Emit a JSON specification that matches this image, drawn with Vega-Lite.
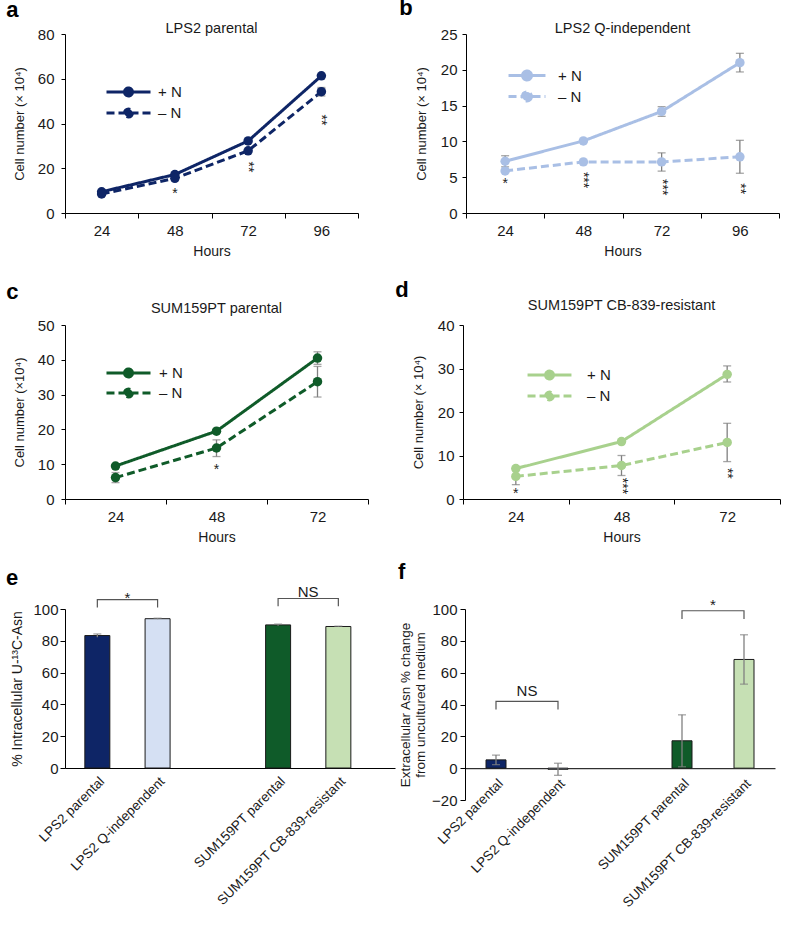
{
  "$schema": "https://vega.github.io/schema/vega-lite/v6.json",
  "background": "white",
  "padding": {"left": 5, "top": -3, "right": 0, "bottom": 0},
  "config": {
    "font": "Liberation Sans",
    "view": {"stroke": null},
    "axis": {"grid": false, "labelOverlap": false, "domainColor": "#000", "domainWidth": 1, "tickColor": "#000", "labelColor": "#1a1a1a", "titleColor": "#1a1a1a", "labelFontSize": 15, "titleFontSize": 14, "titleFontWeight": "normal", "labelFont": "Liberation Sans", "titleFont": "Liberation Sans"},
    "title": {"anchor": "start", "frame": "bounds", "fontSize": 22, "fontWeight": "bold", "font": "Liberation Sans", "color": "#000"},
    "legend": {"padding": 0, "labelFontSize": 15, "labelFont": "Liberation Sans", "labelColor": "#1a1a1a", "symbolStrokeWidth": 3, "rowPadding": 0}
  },
  "datasets": {
    "a": [
      {"h": "24", "g": "+ N", "v": 9.5}, {"h": "24", "g": "– N", "v": 8.5},
      {"h": "48", "g": "+ N", "v": 17.2}, {"h": "48", "g": "– N", "v": 15.5},
      {"h": "72", "g": "+ N", "v": 32.2}, {"h": "72", "g": "– N", "v": 27.8},
      {"h": "96", "g": "+ N", "v": 61.3}, {"h": "96", "g": "– N", "v": 54.2, "lo": 52.3, "hi": 56.1}
    ],
    "a_sig": [{"h": "48", "y": 8.6, "t": "*"}],
    "a_sig2": [{"h": "72", "y": 20.6, "t": "**"}, {"h": "96", "y": 41.6, "t": "**"}],
    "b": [
      {"h": "24", "g": "+ N", "v": 7.23, "lo": 6.45, "hi": 8.0}, {"h": "24", "g": "– N", "v": 5.88},
      {"h": "48", "g": "+ N", "v": 10.07}, {"h": "48", "g": "– N", "v": 7.14},
      {"h": "72", "g": "+ N", "v": 14.18, "lo": 13.5, "hi": 14.85}, {"h": "72", "g": "– N", "v": 7.14, "lo": 5.85, "hi": 8.4},
      {"h": "96", "g": "+ N", "v": 21.0, "lo": 19.7, "hi": 22.3}, {"h": "96", "g": "– N", "v": 7.84, "lo": 5.55, "hi": 10.15}
    ],
    "b_sig": [{"h": "24", "y": 4.0, "t": "*"}],
    "b_sig2": [{"h": "48", "y": 4.6, "t": "***"}, {"h": "72", "y": 3.6, "t": "***"}, {"h": "96", "y": 3.4, "t": "**"}],
    "c": [
      {"h": "24", "g": "+ N", "v": 9.47}, {"h": "24", "g": "– N", "v": 6.15, "lo": 4.7, "hi": 7.6},
      {"h": "48", "g": "+ N", "v": 19.5}, {"h": "48", "g": "– N", "v": 14.65, "lo": 12.2, "hi": 17.0},
      {"h": "72", "g": "+ N", "v": 40.5, "lo": 38.7, "hi": 42.3}, {"h": "72", "g": "– N", "v": 33.7, "lo": 29.3, "hi": 38.1}
    ],
    "c_sig": [{"h": "48", "y": 8.4, "t": "*"}],
    "d": [
      {"h": "24", "g": "+ N", "v": 7.0}, {"h": "24", "g": "– N", "v": 5.2, "lo": 3.3, "hi": 6.9},
      {"h": "48", "g": "+ N", "v": 13.2}, {"h": "48", "g": "– N", "v": 7.7, "lo": 5.4, "hi": 10.0},
      {"h": "72", "g": "+ N", "v": 28.65, "lo": 26.9, "hi": 30.6}, {"h": "72", "g": "– N", "v": 13.0, "lo": 8.6, "hi": 17.4}
    ],
    "d_sig": [{"h": "24", "y": 1.1, "t": "*"}],
    "d_sig2": [{"h": "48", "y": 3.0, "t": "***"}, {"h": "72", "y": 5.9, "t": "**"}],
    "e": [
      {"s": "LPS2 parental", "v": 83.3, "lo": 82.3, "hi": 84.3},
      {"s": "LPS2 Q-independent", "v": 93.9, "lo": 93.6, "hi": 94.2},
      {"s": "SUM159PT parental", "v": 90.0, "lo": 89.5, "hi": 90.5},
      {"s": "SUM159PT CB-839-resistant", "v": 89.0, "lo": 88.8, "hi": 89.2}
    ],
    "e_br": [
      {"k": "1", "o": 1, "s": "LPS2 parental", "y": 101}, {"k": "1", "o": 2, "s": "LPS2 parental", "y": 105.9},
      {"k": "1", "o": 3, "s": "LPS2 Q-independent", "y": 105.9}, {"k": "1", "o": 4, "s": "LPS2 Q-independent", "y": 101},
      {"k": "2", "o": 1, "s": "SUM159PT parental", "y": 101.7}, {"k": "2", "o": 2, "s": "SUM159PT parental", "y": 106.6},
      {"k": "2", "o": 3, "s": "SUM159PT CB-839-resistant", "y": 106.6}, {"k": "2", "o": 4, "s": "SUM159PT CB-839-resistant", "y": 101.7}
    ],
    "e_lab": [{"s": "LPS2 parental", "y": 106.8, "t": "*"}, {"s": "SUM159PT parental", "y": 111, "t": "NS"}],
    "f": [
      {"s": "LPS2 parental", "v": 5.2, "lo": 2.2, "hi": 8.2},
      {"s": "LPS2 Q-independent", "v": -0.7, "lo": -4.5, "hi": 3.1},
      {"s": "SUM159PT parental", "v": 17.2, "lo": 0.9, "hi": 33.5},
      {"s": "SUM159PT CB-839-resistant", "v": 68.3, "lo": 52.8, "hi": 83.8}
    ],
    "f_br": [
      {"k": "1", "o": 1, "s": "LPS2 parental", "y": 36.8}, {"k": "1", "o": 2, "s": "LPS2 parental", "y": 42},
      {"k": "1", "o": 3, "s": "LPS2 Q-independent", "y": 42}, {"k": "1", "o": 4, "s": "LPS2 Q-independent", "y": 36.8},
      {"k": "2", "o": 1, "s": "SUM159PT parental", "y": 93.7}, {"k": "2", "o": 2, "s": "SUM159PT parental", "y": 98.9},
      {"k": "2", "o": 3, "s": "SUM159PT CB-839-resistant", "y": 98.9}, {"k": "2", "o": 4, "s": "SUM159PT CB-839-resistant", "y": 93.7}
    ],
    "f_lab": [{"s": "LPS2 parental", "y": 48.2, "t": "NS"}, {"s": "SUM159PT parental", "y": 102.5, "t": "*"}]
  },
  "resolve": {"scale": {"strokeDash": "independent"}, "legend": {"strokeDash": "independent"}},
  "vconcat": [
    {
      "resolve": {"scale": {"strokeDash": "independent"}, "legend": {"strokeDash": "independent"}},
      "hconcat": [
        {
          "title": {"text": "a", "dx": -7, "offset": -1},
          "resolve": {"scale": {"strokeDash": "independent"}, "legend": {"strokeDash": "independent"}},
          "vconcat": [
            {
              "width": 293, "height": 179,
              "title": {"text": "LPS2 parental", "anchor": "middle", "frame": "group", "fontSize": 14.5, "fontWeight": "normal", "color": "#1a1a1a", "offset": -9.5},
              "data": {"name": "a"},
              "layer": [
                {
                  "mark": {"type": "line", "strokeWidth": 3, "color": "#0e2566"},
                  "encoding": {
                    "x": {"field": "h", "type": "ordinal", "scale": {"type": "band", "paddingInner": 0, "paddingOuter": 0}, "axis": {"title": "Hours", "labelAngle": 0, "tickBand": "extent", "tickSize": 5, "labelPadding": 5, "titlePadding": 6}},
                    "y": {"field": "v", "type": "quantitative", "scale": {"domain": [0, 80], "nice": false}, "axis": {"title": "Cell number (× 10⁴)", "titleFontSize": 13, "values": [0, 20, 40, 60, 80], "tickCount": 20, "tickSize": 4, "labelPadding": 7, "titlePadding": 11}},
                    "strokeDash": {"field": "g", "type": "nominal", "scale": {"domain": ["+ N", "– N"], "range": [[1, 0], [8, 4]]},
                      "legend": {"title": null, "orient": "none", "legendX": 54, "legendY": 48.5, "labelOffset": 20, "symbolType": "M-2.75,0L2.75,0M0.5,0A0.5,0.5,0,1,1,-0.5,0A0.5,0.5,0,1,1,0.5,0Z", "symbolSize": 256, "symbolStrokeColor": "#0e2566", "symbolFillColor": "#0e2566"}}
                  }
                },
                {"mark": {"type": "rule", "color": "#808080", "strokeWidth": 1.3}, "encoding": {"x": {"field": "h", "type": "ordinal"}, "y": {"field": "lo", "type": "quantitative"}, "y2": {"field": "hi"}}},
                {"mark": {"type": "tick", "color": "#808080", "size": 8, "thickness": 1.3}, "encoding": {"x": {"field": "h", "type": "ordinal"}, "y": {"field": "lo", "type": "quantitative"}}},
                {"mark": {"type": "tick", "color": "#808080", "size": 8, "thickness": 1.3}, "encoding": {"x": {"field": "h", "type": "ordinal"}, "y": {"field": "hi", "type": "quantitative"}}},
                {"mark": {"type": "point", "filled": true, "size": 90, "opacity": 1, "color": "#0e2566"}, "encoding": {"x": {"field": "h", "type": "ordinal"}, "y": {"field": "v", "type": "quantitative"}}},
                {"data": {"name": "a_sig"}, "mark": {"type": "text", "fontSize": 14, "color": "#222", "baseline": "middle", "align": "center"}, "encoding": {"x": {"field": "h", "type": "ordinal"}, "y": {"field": "y", "type": "quantitative"}, "text": {"field": "t"}}},
                {"data": {"name": "a_sig2"}, "mark": {"type": "text", "fontSize": 14, "color": "#222", "angle": 90, "baseline": "middle", "align": "center"}, "encoding": {"x": {"field": "h", "type": "ordinal"}, "y": {"field": "y", "type": "quantitative"}, "text": {"field": "t"}}}
              ]
            }
          ]
        },
        {
          "title": {"text": "b", "dx": -16, "offset": 1},
          "resolve": {"scale": {"strokeDash": "independent"}, "legend": {"strokeDash": "independent"}},
          "vconcat": [
            {
              "width": 313, "height": 179,
              "title": {"text": "LPS2 Q-independent", "anchor": "middle", "frame": "group", "fontSize": 14.5, "fontWeight": "normal", "color": "#1a1a1a", "offset": -9.5},
              "data": {"name": "b"},
              "layer": [
                {
                  "mark": {"type": "line", "strokeWidth": 3, "color": "#a9bfe5"},
                  "encoding": {
                    "x": {"field": "h", "type": "ordinal", "scale": {"type": "band", "paddingInner": 0, "paddingOuter": 0}, "axis": {"title": "Hours", "labelAngle": 0, "tickBand": "extent", "tickSize": 5, "labelPadding": 5, "titlePadding": 6}},
                    "y": {"field": "v", "type": "quantitative", "scale": {"domain": [0, 25], "nice": false}, "axis": {"title": "Cell number (× 10⁴)", "titleFontSize": 13, "values": [0, 5, 10, 15, 20, 25], "tickCount": 20, "tickSize": 4, "labelPadding": 5, "titlePadding": 12}},
                    "strokeDash": {"field": "g", "type": "nominal", "scale": {"domain": ["+ N", "– N"], "range": [[1, 0], [8, 4]]},
                      "legend": {"title": null, "orient": "none", "legendX": 52.5, "legendY": 33, "labelOffset": 22.5, "symbolType": "M-2.64,0L2.64,0M0.64,0A0.64,0.64,0,1,1,-0.64,0A0.64,0.64,0,1,1,0.64,0Z", "symbolSize": 196, "symbolStrokeColor": "#a9bfe5", "symbolFillColor": "#a9bfe5"}}
                  }
                },
                {"mark": {"type": "rule", "color": "#808080", "strokeWidth": 1.3}, "encoding": {"x": {"field": "h", "type": "ordinal"}, "y": {"field": "lo", "type": "quantitative"}, "y2": {"field": "hi"}}},
                {"mark": {"type": "tick", "color": "#808080", "size": 8, "thickness": 1.3}, "encoding": {"x": {"field": "h", "type": "ordinal"}, "y": {"field": "lo", "type": "quantitative"}}},
                {"mark": {"type": "tick", "color": "#808080", "size": 8, "thickness": 1.3}, "encoding": {"x": {"field": "h", "type": "ordinal"}, "y": {"field": "hi", "type": "quantitative"}}},
                {"mark": {"type": "point", "filled": true, "size": 90, "opacity": 1, "color": "#a9bfe5"}, "encoding": {"x": {"field": "h", "type": "ordinal"}, "y": {"field": "v", "type": "quantitative"}}},
                {"data": {"name": "b_sig"}, "mark": {"type": "text", "fontSize": 14, "color": "#222", "baseline": "middle", "align": "center"}, "encoding": {"x": {"field": "h", "type": "ordinal"}, "y": {"field": "y", "type": "quantitative"}, "text": {"field": "t"}}},
                {"data": {"name": "b_sig2"}, "mark": {"type": "text", "fontSize": 14, "color": "#222", "angle": 90, "baseline": "middle", "align": "center"}, "encoding": {"x": {"field": "h", "type": "ordinal"}, "y": {"field": "y", "type": "quantitative"}, "text": {"field": "t"}}}
              ]
            }
          ]
        }
      ],
      "spacing": 40
    },
    {
      "resolve": {"scale": {"strokeDash": "independent"}, "legend": {"strokeDash": "independent"}},
      "vconcat": [
        {
          "resolve": {"scale": {"strokeDash": "independent"}, "legend": {"strokeDash": "independent"}},
          "hconcat": [
            {
              "title": {"text": "c", "dx": -7, "offset": -3},
              "resolve": {"scale": {"strokeDash": "independent"}, "legend": {"strokeDash": "independent"}},
              "vconcat": [
                {
                  "width": 303, "height": 174,
                  "title": {"text": "SUM159PT parental", "anchor": "middle", "frame": "group", "fontSize": 14.5, "fontWeight": "normal", "color": "#1a1a1a", "offset": 1.5},
                  "data": {"name": "c"},
                  "layer": [
                    {
                      "mark": {"type": "line", "strokeWidth": 3, "color": "#0f5b29"},
                      "encoding": {
                        "x": {"field": "h", "type": "ordinal", "scale": {"type": "band", "paddingInner": 0, "paddingOuter": 0}, "axis": {"title": "Hours", "labelAngle": 0, "tickBand": "extent", "tickSize": 5, "labelPadding": 5, "titlePadding": 6}},
                        "y": {"field": "v", "type": "quantitative", "scale": {"domain": [0, 50], "nice": false}, "axis": {"title": "Cell number (×10⁴)", "titleFontSize": 13, "values": [0, 10, 20, 30, 40, 50], "tickCount": 20, "tickSize": 4, "labelPadding": 7, "titlePadding": 11}},
                        "strokeDash": {"field": "g", "type": "nominal", "scale": {"domain": ["+ N", "– N"], "range": [[1, 0], [8, 4]]},
                          "legend": {"title": null, "orient": "none", "legendX": 53.5, "legendY": 38, "labelOffset": 20.5, "symbolType": "M-2.59,0L2.59,0M0.47,0A0.47,0.47,0,1,1,-0.47,0A0.47,0.47,0,1,1,0.47,0Z", "symbolSize": 289, "symbolStrokeColor": "#0f5b29", "symbolFillColor": "#0f5b29"}}
                      }
                    },
                    {"mark": {"type": "rule", "color": "#808080", "strokeWidth": 1.3}, "encoding": {"x": {"field": "h", "type": "ordinal"}, "y": {"field": "lo", "type": "quantitative"}, "y2": {"field": "hi"}}},
                    {"mark": {"type": "tick", "color": "#808080", "size": 8, "thickness": 1.3}, "encoding": {"x": {"field": "h", "type": "ordinal"}, "y": {"field": "lo", "type": "quantitative"}}},
                    {"mark": {"type": "tick", "color": "#808080", "size": 8, "thickness": 1.3}, "encoding": {"x": {"field": "h", "type": "ordinal"}, "y": {"field": "hi", "type": "quantitative"}}},
                    {"mark": {"type": "point", "filled": true, "size": 90, "opacity": 1, "color": "#0f5b29"}, "encoding": {"x": {"field": "h", "type": "ordinal"}, "y": {"field": "v", "type": "quantitative"}}},
                    {"data": {"name": "c_sig"}, "mark": {"type": "text", "fontSize": 14, "color": "#222", "baseline": "middle", "align": "center"}, "encoding": {"x": {"field": "h", "type": "ordinal"}, "y": {"field": "y", "type": "quantitative"}, "text": {"field": "t"}}}
                  ]
                }
              ]
            },
            {
              "title": {"text": "d", "dx": -17, "offset": -4},
              "resolve": {"scale": {"strokeDash": "independent"}, "legend": {"strokeDash": "independent"}},
              "vconcat": [
                {
                  "width": 317, "height": 174,
                  "title": {"text": "SUM159PT CB-839-resistant", "anchor": "middle", "frame": "group", "fontSize": 14.5, "fontWeight": "normal", "color": "#1a1a1a", "offset": 4.5},
                  "data": {"name": "d"},
                  "layer": [
                    {
                      "mark": {"type": "line", "strokeWidth": 3, "color": "#a8d18d"},
                      "encoding": {
                        "x": {"field": "h", "type": "ordinal", "scale": {"type": "band", "paddingInner": 0, "paddingOuter": 0}, "axis": {"title": "Hours", "labelAngle": 0, "tickBand": "extent", "tickSize": 5, "labelPadding": 5, "titlePadding": 6}},
                        "y": {"field": "v", "type": "quantitative", "scale": {"domain": [0, 40], "nice": false}, "axis": {"title": "Cell number (× 10⁴)", "titleFontSize": 13, "values": [0, 10, 20, 30, 40], "tickCount": 20, "tickSize": 4, "labelPadding": 5, "titlePadding": 12}},
                        "strokeDash": {"field": "g", "type": "nominal", "scale": {"domain": ["+ N", "– N"], "range": [[1, 0], [8, 4]]},
                          "legend": {"title": null, "orient": "none", "legendX": 76, "legendY": 39.5, "labelOffset": 27, "symbolType": "M-2.44,0L2.44,0M0.44,0A0.44,0.44,0,1,1,-0.44,0A0.44,0.44,0,1,1,0.44,0Z", "symbolSize": 324, "symbolStrokeColor": "#a8d18d", "symbolFillColor": "#a8d18d"}}
                      }
                    },
                    {"mark": {"type": "rule", "color": "#808080", "strokeWidth": 1.3}, "encoding": {"x": {"field": "h", "type": "ordinal"}, "y": {"field": "lo", "type": "quantitative"}, "y2": {"field": "hi"}}},
                    {"mark": {"type": "tick", "color": "#808080", "size": 8, "thickness": 1.3}, "encoding": {"x": {"field": "h", "type": "ordinal"}, "y": {"field": "lo", "type": "quantitative"}}},
                    {"mark": {"type": "tick", "color": "#808080", "size": 8, "thickness": 1.3}, "encoding": {"x": {"field": "h", "type": "ordinal"}, "y": {"field": "hi", "type": "quantitative"}}},
                    {"mark": {"type": "point", "filled": true, "size": 90, "opacity": 1, "color": "#a8d18d"}, "encoding": {"x": {"field": "h", "type": "ordinal"}, "y": {"field": "v", "type": "quantitative"}}},
                    {"data": {"name": "d_sig"}, "mark": {"type": "text", "fontSize": 14, "color": "#222", "baseline": "middle", "align": "center"}, "encoding": {"x": {"field": "h", "type": "ordinal"}, "y": {"field": "y", "type": "quantitative"}, "text": {"field": "t"}}},
                    {"data": {"name": "d_sig2"}, "mark": {"type": "text", "fontSize": 14, "color": "#222", "angle": 90, "baseline": "middle", "align": "center"}, "encoding": {"x": {"field": "h", "type": "ordinal"}, "y": {"field": "y", "type": "quantitative"}, "text": {"field": "t"}}}
                  ]
                }
              ]
            }
          ],
          "spacing": 26
        },
        {
          "hconcat": [
            {
              "width": 330, "height": 159,
              "title": {"text": "e", "dx": -5, "offset": -5},
              "layer": [
                {
                  "data": {"name": "e"},
                  "mark": {"type": "bar", "size": 25, "stroke": "#1a1a1a", "strokeWidth": 1},
                  "encoding": {
                    "x": {"field": "s", "type": "nominal", "sort": null, "scale": {"type": "band", "domain": ["LPS2 parental", "LPS2 Q-independent", " ", "SUM159PT parental", "SUM159PT CB-839-resistant"], "paddingInner": 0.585, "paddingOuter": 0.531, "align": 0.31},
                      "axis": {"title": null, "labelAngle": -45, "ticks": false, "labelPadding": 6, "labelFontSize": 13.5}},
                    "y": {"field": "v", "type": "quantitative", "scale": {"domain": [0, 100], "nice": false}, "axis": {"title": "% Intracellular U-¹³C-Asn", "values": [0, 20, 40, 60, 80, 100], "tickCount": 20, "tickSize": 5, "labelPadding": 2, "titlePadding": 8}},
                    "fill": {"field": "s", "type": "nominal", "scale": {"domain": ["LPS2 parental", "LPS2 Q-independent", "SUM159PT parental", "SUM159PT CB-839-resistant"], "range": ["#0e2566", "#d5e0f3", "#0f5b29", "#c6e0b4"]}, "legend": null}
                  }
                },
                {"data": {"name": "e"}, "mark": {"type": "rule", "color": "#808080", "strokeWidth": 1.3}, "encoding": {"x": {"field": "s", "type": "nominal"}, "y": {"field": "lo", "type": "quantitative"}, "y2": {"field": "hi"}}},
                {"data": {"name": "e"}, "mark": {"type": "tick", "color": "#808080", "size": 8, "thickness": 1.3}, "encoding": {"x": {"field": "s", "type": "nominal"}, "y": {"field": "hi", "type": "quantitative"}}},
                {"data": {"name": "e_br"}, "mark": {"type": "line", "color": "#555", "strokeWidth": 1.2}, "encoding": {"x": {"field": "s", "type": "nominal"}, "y": {"field": "y", "type": "quantitative"}, "detail": {"field": "k"}, "order": {"field": "o"}}},
                {"data": {"name": "e_lab"}, "mark": {"type": "text", "fontSize": 15, "color": "#1a1a1a", "dx": 30, "baseline": "middle"}, "encoding": {"x": {"field": "s", "type": "nominal"}, "y": {"field": "y", "type": "quantitative"}, "text": {"field": "t"}}}
              ]
            },
            {
              "width": 310, "height": 191,
              "title": {"text": "f", "dx": 0, "offset": 14},
              "layer": [
                {
                  "data": {"name": "f"},
                  "mark": {"type": "bar", "size": 20, "stroke": "#1a1a1a", "strokeWidth": 1},
                  "encoding": {
                    "x": {"field": "s", "type": "nominal", "sort": null, "scale": {"type": "band", "domain": ["LPS2 parental", "LPS2 Q-independent", " ", "SUM159PT parental", "SUM159PT CB-839-resistant"], "paddingInner": 0.68, "paddingOuter": 0.34, "align": 0.5},
                      "axis": {"title": null, "labelAngle": -45, "ticks": false, "labelPadding": 8, "labelFontSize": 13.5, "offset": -31.8}},
                    "y": {"field": "v", "type": "quantitative", "scale": {"domain": [-20, 100], "nice": false}, "axis": {"title": ["Extracellular Asn % change", "from uncultured medium"], "titleFontSize": 13.5, "titleLineHeight": 15, "values": [-20, 0, 20, 40, 60, 80, 100], "tickCount": 20, "tickSize": 5, "labelPadding": 3, "titlePadding": 4.5}},
                    "fill": {"field": "s", "type": "nominal", "scale": {"domain": ["LPS2 parental", "LPS2 Q-independent", "SUM159PT parental", "SUM159PT CB-839-resistant"], "range": ["#0e2566", "#d5e0f3", "#0f5b29", "#c6e0b4"]}, "legend": null}
                  }
                },
                {"data": {"name": "f"}, "mark": {"type": "rule", "color": "#808080", "strokeWidth": 1.3}, "encoding": {"x": {"field": "s", "type": "nominal"}, "y": {"field": "lo", "type": "quantitative"}, "y2": {"field": "hi"}}},
                {"data": {"name": "f"}, "mark": {"type": "tick", "color": "#808080", "size": 8, "thickness": 1.3}, "encoding": {"x": {"field": "s", "type": "nominal"}, "y": {"field": "lo", "type": "quantitative"}}},
                {"data": {"name": "f"}, "mark": {"type": "tick", "color": "#808080", "size": 8, "thickness": 1.3}, "encoding": {"x": {"field": "s", "type": "nominal"}, "y": {"field": "hi", "type": "quantitative"}}},
                {"data": {"name": "f_br"}, "mark": {"type": "line", "color": "#555", "strokeWidth": 1.2}, "encoding": {"x": {"field": "s", "type": "nominal"}, "y": {"field": "y", "type": "quantitative"}, "detail": {"field": "k"}, "order": {"field": "o"}}},
                {"data": {"name": "f_lab"}, "mark": {"type": "text", "fontSize": 15, "color": "#1a1a1a", "dx": 31, "baseline": "middle"}, "encoding": {"x": {"field": "s", "type": "nominal"}, "y": {"field": "y", "type": "quantitative"}, "text": {"field": "t"}}}
              ]
            }
          ],
          "spacing": 3
        }
      ],
      "spacing": 17
    }
  ],
  "spacing": 21
}
